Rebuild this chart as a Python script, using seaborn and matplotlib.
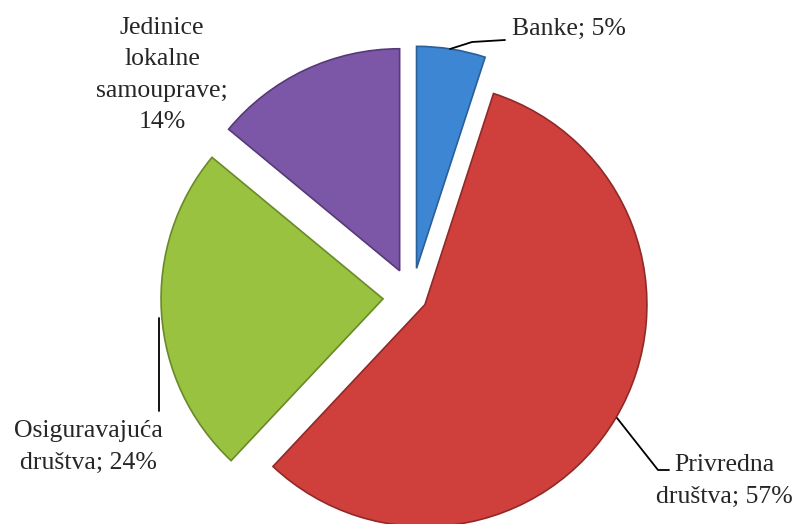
import matplotlib
matplotlib.use("Agg")
import matplotlib.pyplot as plt
import seaborn as sns

labels = ["Banke", "Privredna\ndruštva", "Osiguravajuća\ndruštva",
          "Jedinice\nlokalne\nsamouprave"]
shares = [5, 57, 24, 14]
colors = ["#3d86d4", "#cf403c", "#98c23f", "#7c57a8"]
edges = ["#2a5f99", "#8f2a28", "#6a8a2a", "#553a78"]

sns.set_theme(style="white")
plt.rcParams["font.family"] = ["Liberation Serif", "DejaVu Serif"]

fig = plt.figure(figsize=(7.97, 5.24), dpi=100)
ax = fig.add_axes([0, 0, 1, 1])

# pie in pixel-like coordinates so labels can be placed where they sit in the original
wedges, _ = ax.pie(shares, colors=colors, startangle=90, counterclock=False,
                   explode=[29, 15, 29, 29], radius=222, center=(412, -297),
                   wedgeprops=dict(linewidth=1.2))
for w, e in zip(wedges, edges):
    w.set_edgecolor(e)

ax.set_xlim(0, 797)
ax.set_ylim(-524, 0)
ax.axis("off")

fs = 18.5
ls = 1.55
ax.text(512, -29, f"{labels[0]}; {shares[0]}%", fontsize=fs, va="center", ha="left")
ax.plot([450, 472, 505], [-49, -42, -40], color="black", lw=1.3)

ax.text(162, -75, f"{labels[3]};\n{shares[3]}%", fontsize=fs, ha="center",
        va="center", linespacing=ls)

ax.text(88, -447, f"{labels[2]}; {shares[2]}%", fontsize=fs, ha="center",
        va="center", linespacing=ls)
ax.plot([159, 159], [-318, -411], color="black", lw=1.3)

ax.text(724, -481, f"{labels[1]}; {shares[1]}%", fontsize=fs, ha="center",
        va="center", linespacing=ls)
ax.plot([617, 658, 669], [-418, -470, -470], color="black", lw=1.3)

fig.savefig("out.png", dpi=100)
